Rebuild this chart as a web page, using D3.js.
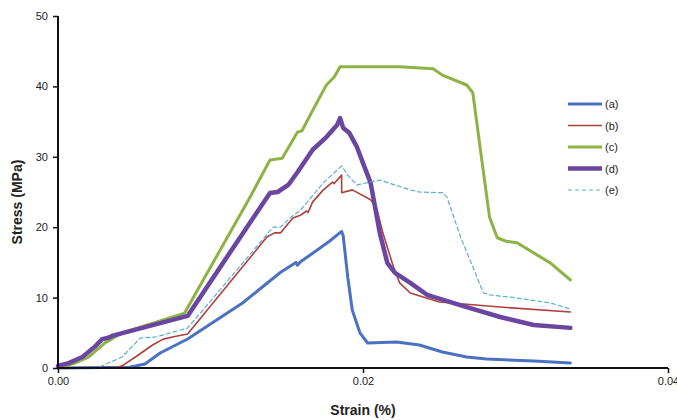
<!DOCTYPE html>
<html lang="en">
<head>
<meta charset="UTF-8">
<title>Stress vs Strain</title>
<style>
    body { margin: 0; padding: 0; background: #fff; }
    svg { display: block; font-family: "Liberation Sans", Arial, sans-serif; }
    .tick text { font-size: 11px; fill: #222; }
</style>
</head>
<body>
<div id="chart"></div>
<script src="https://d3js.org/d3.v7.min.js"></script>
<script>
// [strain, stress] pairs
const seriesA = [[0,0],[0.0047,0.1],[0.0057,0.57],[0.0067,2.13],[0.0085,4.12],[0.0102,6.53],[0.0121,9.23],
    [0.0146,13.6],[0.0156,15.0],[0.0157,14.6],[0.0159,15.1],[0.0167,16.3],[0.0178,18.0],[0.0186,19.4],
    [0.0187,18.8],[0.0190,12.9],[0.0193,8.2],[0.0198,5.0],[0.0203,3.55],[0.0222,3.7],[0.0237,3.27],
    [0.0252,2.27],[0.0268,1.56],[0.0281,1.28],[0.0312,1.0],[0.0336,0.71]];
const seriesB = [[0,0],[0.0039,0.1],[0.0042,0.3],[0.0051,1.6],[0.0062,3.27],[0.0069,4.1],[0.0075,4.4],
    [0.0085,4.83],[0.0137,18.6],[0.0142,19.2],[0.0146,19.2],[0.0154,21.3],[0.0159,21.7],[0.0163,22.3],
    [0.0164,22.1],[0.0167,23.6],[0.0174,25.3],[0.0180,26.4],[0.0181,26.2],[0.0186,27.4],[0.0186,24.9],
    [0.0193,25.3],[0.0205,23.9],[0.0209,22.7],[0.0213,19.2],[0.0220,14.35],[0.0224,12.1],[0.0231,10.65],
    [0.0250,9.38],[0.0290,8.66],[0.0336,7.95]];
const seriesC = [[0,0],[0.0011,0.7],[0.0020,1.56],[0.0031,3.6],[0.0042,4.97],[0.0083,7.8],[0.0126,24.3],
    [0.0139,29.55],[0.0147,29.8],[0.0157,33.5],[0.0160,33.7],[0.0167,36.6],[0.0176,40.2],[0.0181,41.3],
    [0.0185,42.8],[0.0224,42.8],[0.0246,42.5],[0.0252,41.6],[0.0268,40.2],[0.0272,39.1],[0.0277,31.0],
    [0.0283,21.4],[0.0288,18.5],[0.0294,18.0],[0.0301,17.8],[0.0323,14.9],[0.0336,12.5]];
const seriesD = [[0,0.3],[0.0007,0.7],[0.0016,1.56],[0.0024,3.0],[0.0029,4.1],[0.0033,4.3],[0.0036,4.6],
    [0.0085,7.4],[0.0114,16.8],[0.0139,24.86],[0.0144,25.0],[0.0151,26.0],[0.0157,27.8],[0.0167,31.0],
    [0.0176,32.8],[0.0183,34.5],[0.0185,35.5],[0.0187,34.1],[0.0191,33.4],[0.0196,31.4],[0.0200,29.1],
    [0.0205,26.3],[0.0211,19.2],[0.0216,14.9],[0.0221,13.5],[0.0231,12.1],[0.0242,10.4],[0.0268,8.66],
    [0.0290,7.24],[0.0312,6.1],[0.0336,5.7]];
const seriesE = [[0,0],[0.0026,0.1],[0.0030,0.4],[0.0033,0.7],[0.0042,1.56],[0.0054,4.26],[0.0064,4.4],
    [0.0085,5.68],[0.0141,20.0],[0.0146,20.0],[0.0152,21.3],[0.0159,22.4],[0.0174,26.3],[0.0186,28.7],
    [0.0190,27.4],[0.0196,26.0],[0.0211,26.7],[0.0231,25.3],[0.0237,25.0],[0.0252,24.9],[0.0255,24.3],
    [0.0264,18.6],[0.0279,10.65],[0.0283,10.4],[0.0301,9.94],[0.0323,9.23],[0.0336,8.38]];

const seriesNames = ["(a)", "(b)", "(c)", "(d)", "(e)"];
const xTicks = [0, 0.02, 0.04];
const yTicks = [0, 10, 20, 30, 40, 50];

const styles = [
    { color: "#4a72c0", width: 3, dash: null },
    { color: "#b0403d", width: 1.6, dash: null },
    { color: "#8db346", width: 3, dash: null },
    { color: "#6a46a0", width: 4.5, dash: null },
    { color: "#5aaed6", width: 1.2, dash: "4,3" }
];
const allSeries = [seriesA, seriesB, seriesC, seriesD, seriesE];

const svgWidth = 677, svgHeight = 420;
const margin = { top: 16, right: 9, bottom: 52, left: 58 };
const width = svgWidth - margin.left - margin.right;
const height = svgHeight - margin.top - margin.bottom;

const svg = d3.select("#chart").append("svg")
    .attr("width", svgWidth)
    .attr("height", svgHeight);

const g = svg.append("g")
    .attr("transform", "translate(" + margin.left + "," + margin.top + ")");

const x = d3.scaleLinear().domain([0, 0.04]).range([0, width]);
const y = d3.scaleLinear().domain([0, 50]).range([height, 0]);

const line = d3.line()
    .x(d => x(d[0]))
    .y(d => y(d[1]));

allSeries.forEach((s, i) => {
    g.append("path")
        .datum(s)
        .attr("fill", "none")
        .attr("stroke", styles[i].color)
        .attr("stroke-width", styles[i].width)
        .attr("stroke-linejoin", "round")
        .attr("stroke-linecap", "round")
        .attr("stroke-dasharray", styles[i].dash)
        .attr("d", line);
});

// axes
const yAxis = g.append("g")
    .call(d3.axisLeft(y).tickValues(yTicks).tickSize(5).tickPadding(5).tickFormat(d3.format("d")));
const xAxis = g.append("g")
    .attr("transform", "translate(0," + height + ")")
    .call(d3.axisBottom(x).tickValues(xTicks).tickSize(5).tickPadding(4).tickFormat(d3.format(".2f")));

[yAxis, xAxis].forEach(a => {
    a.select(".domain").attr("stroke", "#111").attr("stroke-width", 2);
    a.selectAll(".tick line").attr("stroke", "#111").attr("stroke-width", 1.5);
});
xAxis.select(".domain").attr("d", "M0,0H" + width);
yAxis.select(".domain").attr("d", "M0," + height + "V0");

svg.append("text")
    .attr("transform", "translate(22," + (margin.top + height / 2 + 10) + ") rotate(-90)")
    .attr("text-anchor", "middle")
    .attr("font-size", 14)
    .attr("font-weight", "bold")
    .attr("fill", "#222")
    .text("Stress (MPa)");

svg.append("text")
    .attr("x", margin.left + x(0.02))
    .attr("y", 415)
    .attr("text-anchor", "middle")
    .attr("font-size", 14)
    .attr("font-weight", "bold")
    .attr("fill", "#222")
    .text("Strain (%)");

// legend
const legendY = [104, 125.5, 147, 168.5, 190];
const legend = svg.append("g");
seriesNames.forEach((name, i) => {
    legend.append("line")
        .attr("x1", 568).attr("x2", 602)
        .attr("y1", legendY[i]).attr("y2", legendY[i])
        .attr("stroke", styles[i].color)
        .attr("stroke-width", styles[i].width)
        .attr("stroke-dasharray", styles[i].dash);
    legend.append("text")
        .attr("x", 605)
        .attr("y", legendY[i] + 4)
        .attr("font-size", 11)
        .attr("fill", "#222")
        .text(name);
});
</script>
</body>
</html>
